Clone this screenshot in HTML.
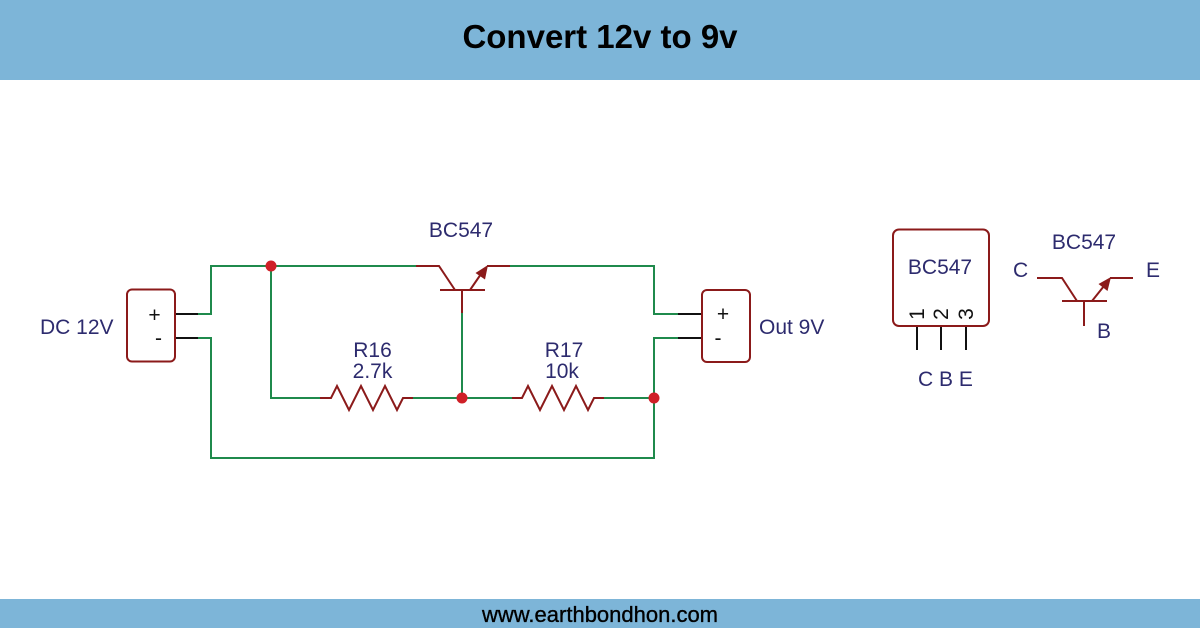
<!DOCTYPE html>
<html>
<head>
<meta charset="utf-8">
<style>
  html, body { margin:0; padding:0; background:#ffffff; }
  body { width:1200px; height:628px; overflow:hidden; }
  svg { display:block; }
  text { font-family: "Liberation Sans", Arial, sans-serif; }
</style>
</head>
<body>
<svg width="1200" height="628" viewBox="0 0 1200 628" xmlns="http://www.w3.org/2000/svg">
  <!-- background -->
  <rect x="0" y="0" width="1200" height="628" fill="#ffffff"/>
  <!-- header -->
  <rect x="0" y="0" width="1200" height="80" fill="#7db5d8"/>
  <text x="600" y="48" text-anchor="middle" font-size="33" font-weight="bold" fill="#000">Convert 12v to 9v</text>
  <!-- footer -->
  <rect x="0" y="599" width="1200" height="29" fill="#7db5d8"/>
  <text x="600" y="622" text-anchor="middle" font-size="22" fill="#000" stroke="#000" stroke-width="0.35">www.earthbondhon.com</text>

  <!-- green wires -->
  <g stroke="#1f8a4c" stroke-width="2" fill="none" stroke-linecap="square">
    <!-- left input plus -->
    <polyline points="198,314 211,314 211,266 416,266"/>
    <!-- left input minus -->
    <polyline points="198,338 211,338 211,458 654,458 654,338 678,338"/>
    <!-- top right -->
    <polyline points="510,266 654,266 654,314 678,314"/>
    <!-- junction down to R16 -->
    <polyline points="271,266 271,398 320,398"/>
    <!-- R16 to R17 -->
    <line x1="413" y1="398" x2="512" y2="398"/>
    <!-- R17 to right -->
    <line x1="604" y1="398" x2="654" y2="398"/>
    <!-- base wire -->
    <line x1="462" y1="313" x2="462" y2="398"/>
  </g>

  <!-- black leads -->
  <g stroke="#111" stroke-width="2">
    <line x1="175" y1="314" x2="198" y2="314"/>
    <line x1="175" y1="338" x2="198" y2="338"/>
    <line x1="678" y1="314" x2="702" y2="314"/>
    <line x1="678" y1="338" x2="702" y2="338"/>
    <line x1="917" y1="326" x2="917" y2="350"/>
    <line x1="941" y1="326" x2="941" y2="350"/>
    <line x1="966" y1="326" x2="966" y2="350"/>
  </g>

  <!-- dark red components -->
  <g stroke="#8b1a1a" stroke-width="2" fill="none" stroke-linejoin="miter">
    <!-- connector boxes -->
    <rect x="127" y="289.5" width="48" height="72" rx="5" ry="5"/>
    <rect x="702" y="290" width="48" height="72" rx="5" ry="5"/>
    <rect x="893" y="229.5" width="96" height="96.5" rx="6" ry="6"/>

    <!-- R16 -->
    <polyline points="320,398 331,398 337,386 349,410 361,386 373,410 385,386 397,410 403,398 413,398"/>
    <!-- R17 -->
    <polyline points="512,398 522,398 528,386 540,410 552,386 564,410 576,386 588,410 594,398 604,398"/>

    <!-- main transistor -->
    <polyline points="416,266 439,266 455,290"/>
    <line x1="440" y1="290" x2="485" y2="290"/>
    <line x1="462" y1="290" x2="462" y2="313"/>
    <line x1="470" y1="290" x2="481" y2="274"/>
    <line x1="487" y1="266" x2="510" y2="266"/>

    <!-- right transistor symbol -->
    <polyline points="1037,278 1062,278 1077,301"/>
    <line x1="1062" y1="301" x2="1107" y2="301"/>
    <line x1="1084" y1="301" x2="1084" y2="326"/>
    <line x1="1092" y1="301" x2="1104" y2="286"/>
    <line x1="1110" y1="278" x2="1133" y2="278"/>
  </g>
  <!-- arrow heads -->
  <polygon points="488,265 485,279.5 475.5,273" fill="#8b1a1a"/>
  <polygon points="1111,277 1107.5,291 1098.5,284" fill="#8b1a1a"/>

  <!-- junction dots -->
  <g fill="#cf2027">
    <circle cx="271" cy="266" r="5.5"/>
    <circle cx="462" cy="398" r="5.5"/>
    <circle cx="654" cy="398" r="5.5"/>
  </g>

  <!-- connector +/- signs -->
  <g fill="#111" font-size="21">
    <text x="154.5" y="322" text-anchor="middle">+</text>
    <text x="158.5" y="345" text-anchor="middle">-</text>
    <text x="723" y="321" text-anchor="middle">+</text>
    <text x="718" y="345" text-anchor="middle">-</text>
  </g>

  <!-- labels -->
  <g fill="#2d2b6e" font-size="21">
    <text x="40" y="334">DC 12V</text>
    <text x="759" y="334">Out 9V</text>
    <text x="461" y="237" text-anchor="middle">BC547</text>
    <text x="372.5" y="357" text-anchor="middle">R16</text>
    <text x="372.5" y="378" text-anchor="middle">2.7k</text>
    <text x="564" y="357" text-anchor="middle">R17</text>
    <text x="562" y="378" text-anchor="middle">10k</text>

    <text x="940" y="274" text-anchor="middle">BC547</text>
    <text x="918" y="386">C B E</text>
    <text x="1084" y="249" text-anchor="middle">BC547</text>
    <text x="1013" y="277">C</text>
    <text x="1146" y="277">E</text>
    <text x="1097" y="338">B</text>
  </g>
  <!-- rotated pin numbers -->
  <g fill="#111" font-size="21">
    <text transform="translate(924,314) rotate(-90)" text-anchor="middle">1</text>
    <text transform="translate(948,314) rotate(-90)" text-anchor="middle">2</text>
    <text transform="translate(973,314) rotate(-90)" text-anchor="middle">3</text>
  </g>
</svg>
</body>
</html>
